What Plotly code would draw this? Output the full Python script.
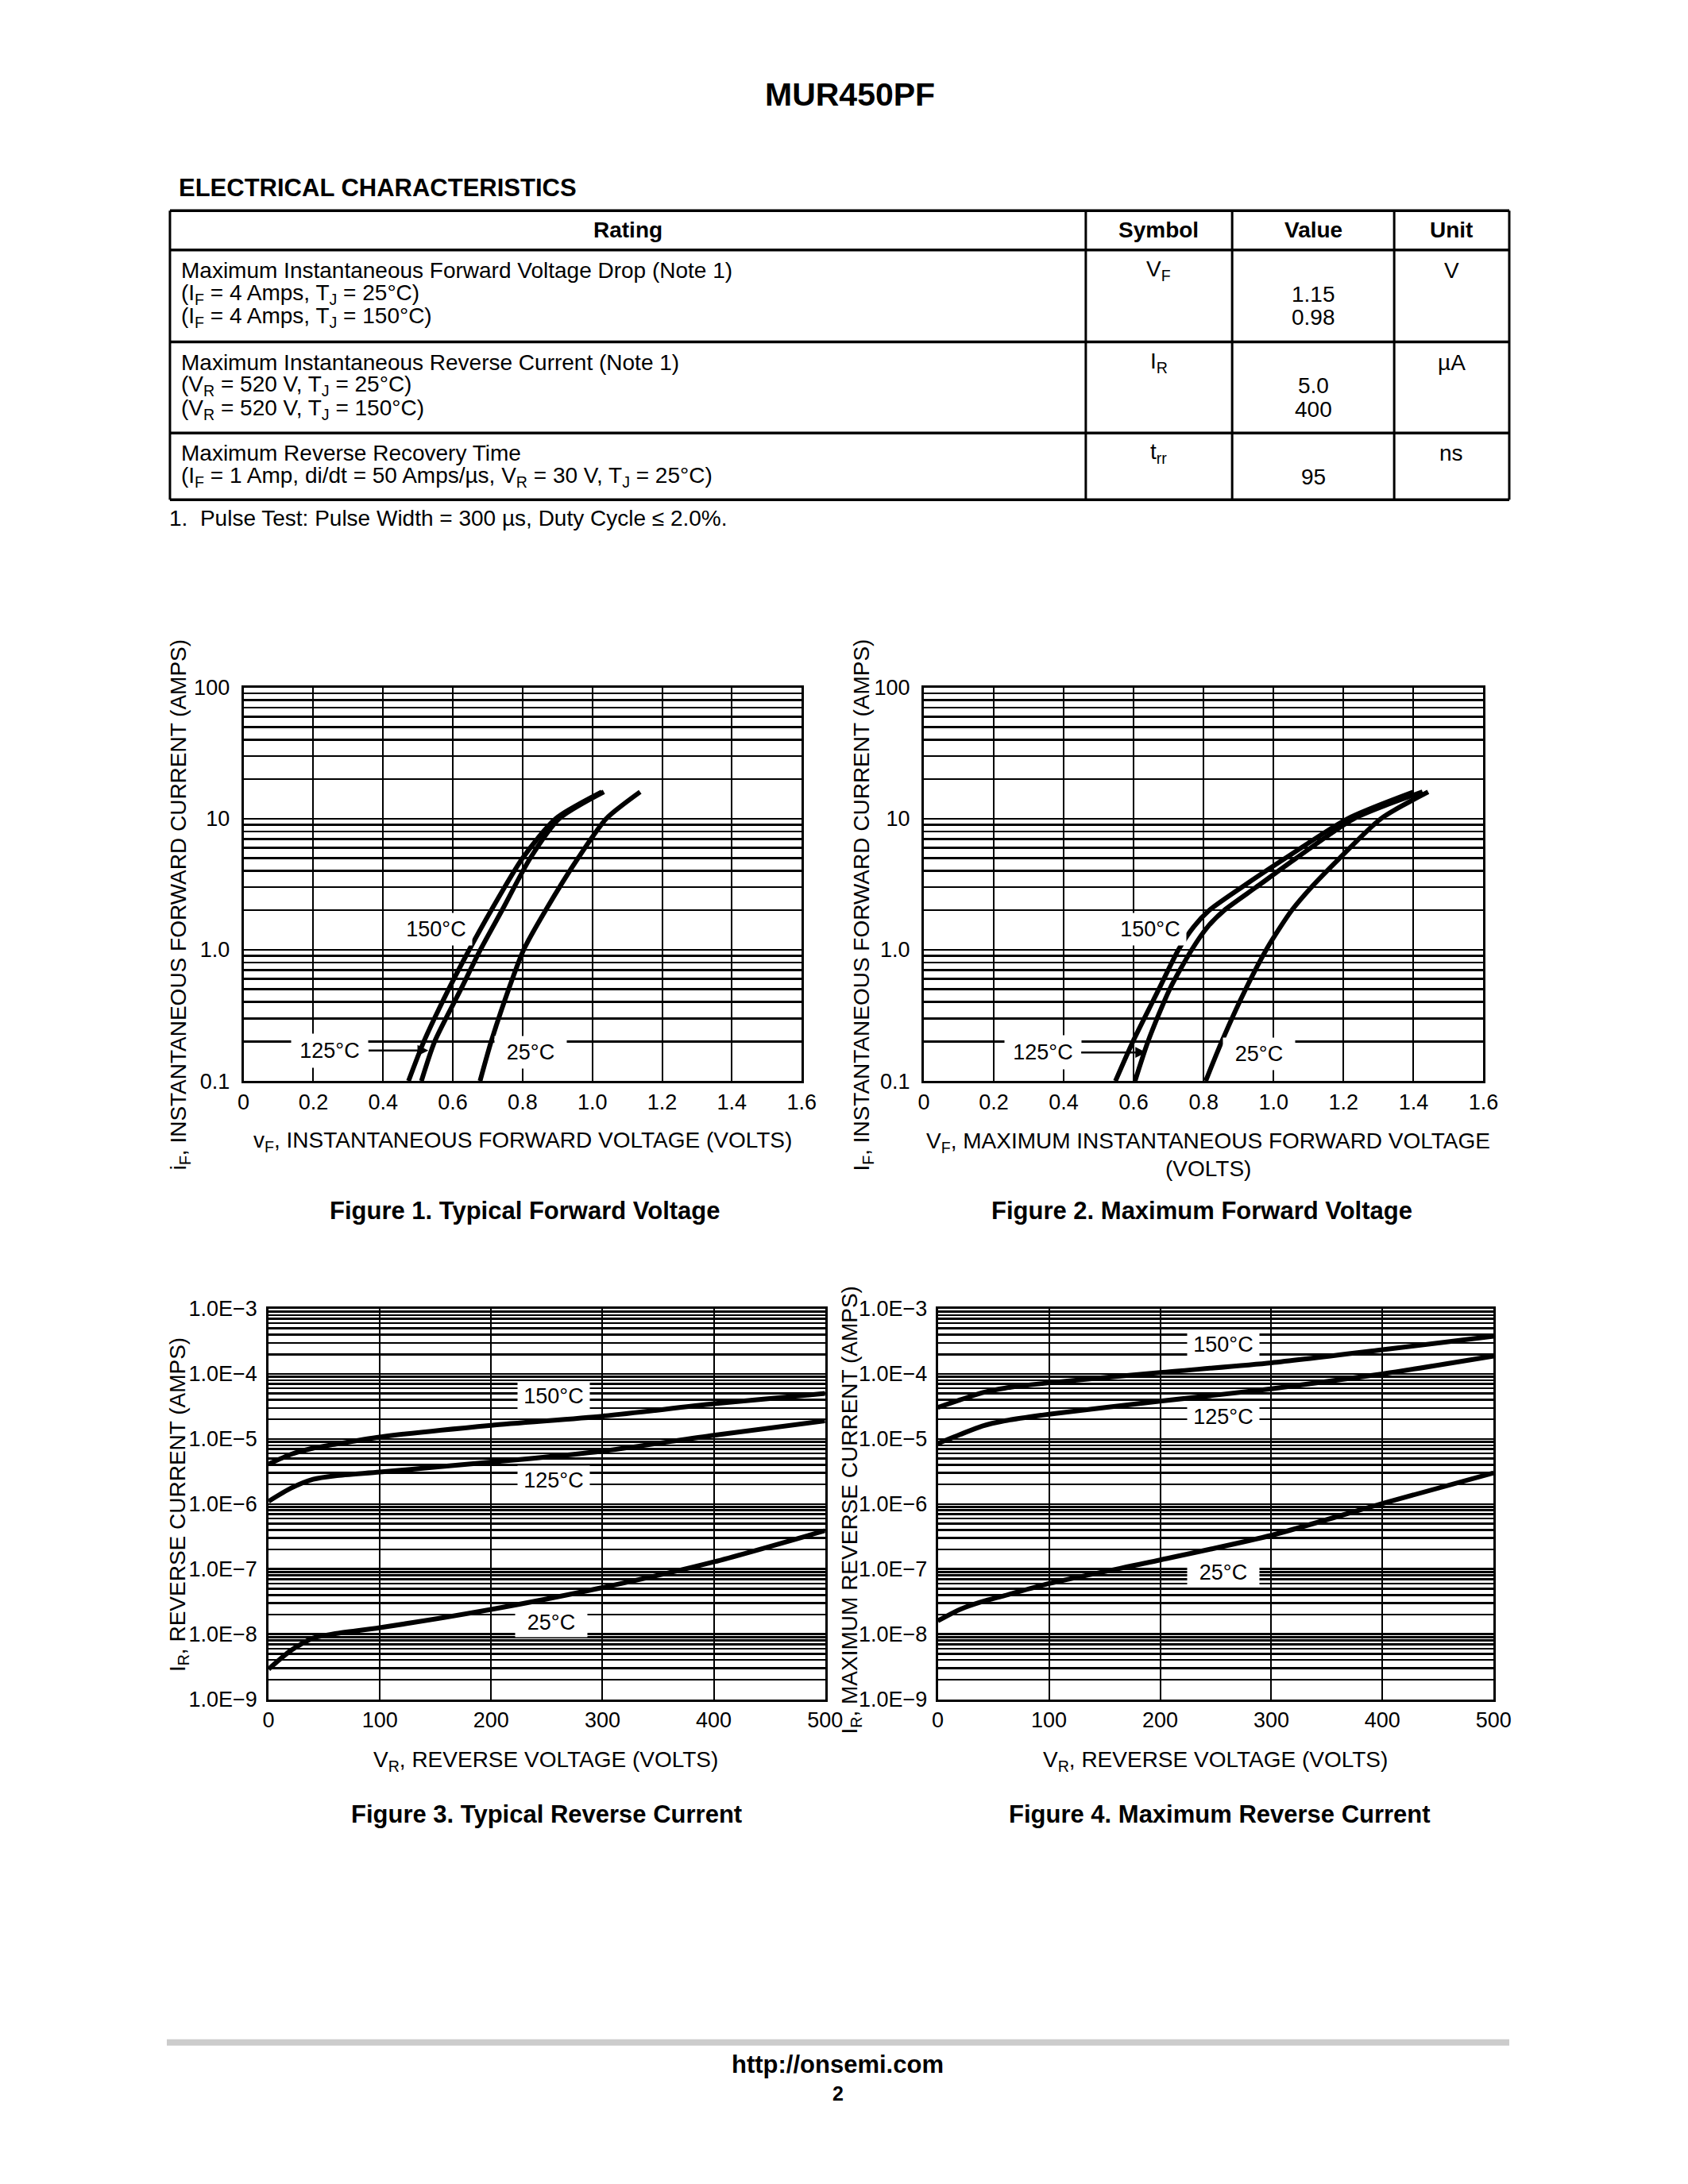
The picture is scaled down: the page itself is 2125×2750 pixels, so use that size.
import numpy as np
import plotly.graph_objects as go

W, H = 2125, 2750
FONT = "Liberation Sans, Arial, Helvetica, sans-serif"

# ---------------- data ----------------
# Figure 1: typical forward voltage (iF [A] vs vF [V])
fig1_current = [0.1, 0.2, 0.5, 1.0, 2.0, 5.0, 10.0, 16.0]
fig1_vf_150 = [0.473, 0.517, 0.588, 0.647, 0.710, 0.800, 0.895, 1.027]
fig1_vf_125 = [0.510, 0.548, 0.623, 0.679, 0.741, 0.822, 0.905, 1.033]
fig1_vf_25 = [0.678, 0.710, 0.760, 0.803, 0.866, 0.959, 1.040, 1.137]

# Figure 2: maximum forward voltage
fig2_current = [0.1, 0.2, 0.5, 1.0, 1.5, 2.0, 3.0, 5.0, 10.0, 16.0]
fig2_vf_150 = [0.548, 0.598, 0.672, 0.728, 0.772, 0.816, 0.909, 1.034, 1.212, 1.401]
fig2_vf_125 = [0.604, 0.641, 0.703, 0.766, 0.812, 0.859, 0.950, 1.065, 1.230, 1.426]
fig2_vf_25 = [0.806, 0.852, 0.920, 0.979, 1.020, 1.052, 1.108, 1.189, 1.307, 1.442]

# Figure 3: typical reverse current (IR [A] vs VR [V])
rev_voltage = [0, 20, 40, 60, 100, 200, 300, 400, 500]
fig3_ir_150 = [4.1e-6, 5.8e-6, 7.2e-6, 8.3e-6, 1.07e-5, 1.62e-5, 2.24e-5, 3.47e-5, 5.0e-5]
fig3_ir_125 = [1.1e-6, 1.75e-6, 2.4e-6, 2.72e-6, 3.1e-6, 4.4e-6, 6.5e-6, 1.14e-5, 1.9e-5]
fig3_ir_25 = [2.9e-9, 5.6e-9, 8.7e-9, 1.02e-8, 1.26e-8, 2.4e-8, 5.2e-8, 1.29e-7, 3.9e-7]

# Figure 4: maximum reverse current
fig4_ir_150 = [3.05e-5, 3.98e-5, 5.13e-5, 6.03e-5, 7.3e-5, 1.05e-4, 1.48e-4, 2.35e-4, 3.8e-4]
fig4_ir_125 = [8.5e-6, 1.17e-5, 1.58e-5, 1.9e-5, 2.4e-5, 3.8e-5, 5.9e-5, 1.0e-4, 1.88e-4]
fig4_ir_25 = [1.6e-8, 2.4e-8, 3.16e-8, 3.9e-8, 6.0e-8, 1.38e-7, 3.3e-7, 1.02e-6, 3.0e-6]

# tick labels
fwd_x_ticks = [0, 0.2, 0.4, 0.6, 0.8, 1.0, 1.2, 1.4, 1.6]
fwd_x_text = ["0", "0.2", "0.4", "0.6", "0.8", "1.0", "1.2", "1.4", "1.6"]
fwd_y_ticks = [0.1, 1, 10, 100]
fwd_y_text = ["0.1", "1.0", "10", "100"]
rev_x_ticks = [0, 100, 200, 300, 400, 500]
rev_x_text = ["0", "100", "200", "300", "400", "500"]
rev_y_ticks = [1e-9, 1e-8, 1e-7, 1e-6, 1e-5, 1e-4, 1e-3]
rev_y_text = ["1.0E\u22129", "1.0E\u22128", "1.0E\u22127", "1.0E\u22126",
              "1.0E\u22125", "1.0E\u22124", "1.0E\u22123"]

# curve labels: (text, x, y)
fig1_labels = [("150°C", 0.552, 1.43), ("25°C", 0.822, 0.166)]
fig1_arrow = ("125°C", 0.248, 0.171, 0.530)   # text, text x, y, arrow head x
fig2_labels = [("150°C", 0.648, 1.43), ("25°C", 0.958, 0.160)]
fig2_arrow = ("125°C", 0.340, 0.165, 0.636)
fig3_labels = [("150°C", 256, 4.6e-5), ("125°C", 256, 2.3e-6), ("25°C", 254, 1.5e-8)]
fig4_labels = [("150°C", 257, 2.8e-4), ("125°C", 257, 2.2e-5), ("25°C", 257, 8.9e-8)]


def px(x):
    return x / W


def py(y):
    return 1 - y / H


fig = go.Figure()

CURVE = dict(color="black", width=6, shape="spline", smoothing=0.7)


def add_curve(x, y, axis):
    fig.add_trace(go.Scatter(x=x, y=y, mode="lines", line=CURVE,
                             xaxis="x" + axis, yaxis="y" + axis,
                             showlegend=False, hoverinfo="skip"))


add_curve(fig1_vf_150, fig1_current, "")
add_curve(fig1_vf_125, fig1_current, "")
add_curve(fig1_vf_25, fig1_current, "")
add_curve(fig2_vf_150, fig2_current, "2")
add_curve(fig2_vf_125, fig2_current, "2")
add_curve(fig2_vf_25, fig2_current, "2")
add_curve(rev_voltage, fig3_ir_150, "3")
add_curve(rev_voltage, fig3_ir_125, "3")
add_curve(rev_voltage, fig3_ir_25, "3")
add_curve(rev_voltage, fig4_ir_150, "4")
add_curve(rev_voltage, fig4_ir_125, "4")
add_curve(rev_voltage, fig4_ir_25, "4")

TICKFONT = dict(family=FONT, size=27, color="black")


def xaxis(dom, rng, vals, text, anchor):
    return dict(domain=[px(dom[0]), px(dom[1])], range=rng, tickmode="array",
                tickvals=vals, ticktext=text, showgrid=True, gridcolor="black",
                gridwidth=2.0, showline=True, linecolor="black", linewidth=3,
                mirror=True, ticks="", zeroline=False, tickfont=TICKFONT,
                ticklabelstandoff=0, anchor=anchor, fixedrange=True)


def yaxis(dom, lo, hi, vals, text, anchor, standoff):
    minor_vals = [m * 10.0 ** e for e in range(lo, hi) for m in range(2, 10)]
    return dict(domain=[py(dom[1]), py(dom[0])], type="log", range=[lo, hi],
                tickmode="array", tickvals=vals, ticktext=text, showgrid=True,
                gridcolor="black", gridwidth=2.5,
                minor=dict(tickmode="array", tickvals=minor_vals, showgrid=True,
                           gridcolor="black", gridwidth=2.5, ticks=""),
                showline=True, linecolor="black", linewidth=3, mirror=True,
                ticks="", zeroline=False, tickfont=TICKFONT,
                ticklabelstandoff=standoff, anchor=anchor, fixedrange=True)


F1X, F1Y = (303, 1016), (860, 1361)
F2X, F2Y = (1172, 1887), (860, 1361)
F3X, F3Y = (335, 1046), (1651, 2148)
F4X, F4Y = (1190, 1900), (1651, 2148)

fig.update_layout(
    xaxis=xaxis(F1X, [0, 1.6], fwd_x_ticks, fwd_x_text, "y"),
    yaxis=yaxis(F1Y, -1, 2, fwd_y_ticks, fwd_y_text, "x", 9),
    xaxis2=xaxis(F2X, [0, 1.6], fwd_x_ticks, fwd_x_text, "y2"),
    yaxis2=yaxis(F2Y, -1, 2, fwd_y_ticks, fwd_y_text, "x2", 9),
    xaxis3=xaxis(F3X, [0, 500], rev_x_ticks, rev_x_text, "y3"),
    yaxis3=yaxis(F3Y, -9, -3, rev_y_ticks, rev_y_text, "x3", 6),
    xaxis4=xaxis(F4X, [0, 500], rev_x_ticks, rev_x_text, "y4"),
    yaxis4=yaxis(F4Y, -9, -3, rev_y_ticks, rev_y_text, "x4", 5),
)

ann = []
shapes = []


def text(x, y, s, size=28, bold=False, xanchor="center", angle=0):
    if bold:
        s = "<b>" + s + "</b>"
    ann.append(dict(x=px(x), y=py(y), xref="paper", yref="paper", text=s,
                    showarrow=False, xanchor=xanchor, yanchor="middle",
                    textangle=angle, font=dict(family=FONT, size=size, color="black")))


def hline(x0, x1, y, w=3, color="black"):
    shapes.append(dict(type="line", xref="paper", yref="paper", x0=px(x0), x1=px(x1),
                       y0=py(y), y1=py(y), line=dict(color=color, width=w)))


def vline(x, y0, y1, w=3):
    shapes.append(dict(type="line", xref="paper", yref="paper", x0=px(x), x1=px(x),
                       y0=py(y0), y1=py(y1), line=dict(color="black", width=w)))


# ---------------- header & table ----------------
text(1078, 105, "MUR450PF", size=41, bold=True)
text(218, 224, "ELECTRICAL CHARACTERISTICS", size=31, bold=True, xanchor="left")

TL, TR = 209, 1920
rows_y = [253, 303, 420, 536, 621]
cols_x = [1379, 1566, 1773]
for yy in rows_y:
    hline(TL, TR, yy, w=3.5)
for xx in [TL, TR] + cols_x:
    vline(xx, rows_y[0], rows_y[-1], w=3)

text(794, 278, "Rating", bold=True)
text(1472, 278, "Symbol", bold=True)
text(1670, 278, "Value", bold=True)
text(1846, 278, "Unit", bold=True)

LX = 221
text(LX, 329, "Maximum Instantaneous Forward Voltage Drop (Note 1)", xanchor="left")
text(LX, 359, "(I<sub>F</sub> = 4 Amps, T<sub>J</sub> = 25°C)", xanchor="left")
text(LX, 389, "(I<sub>F</sub> = 4 Amps, T<sub>J</sub> = 150°C)", xanchor="left")
text(1472, 329, "V<sub>F</sub>")
text(1670, 359, "1.15")
text(1670, 389, "0.98")
text(1846, 329, "V")

text(LX, 446, "Maximum Instantaneous Reverse Current (Note 1)", xanchor="left")
text(LX, 476, "(V<sub>R</sub> = 520 V, T<sub>J</sub> = 25°C)", xanchor="left")
text(LX, 506, "(V<sub>R</sub> = 520 V, T<sub>J</sub> = 150°C)", xanchor="left")
text(1472, 446, "I<sub>R</sub>")
text(1670, 476, "5.0")
text(1670, 506, "400")
text(1846, 446, "µA")

text(LX, 562, "Maximum Reverse Recovery Time", xanchor="left")
text(LX, 592, "(I<sub>F</sub> = 1 Amp, di/dt = 50 Amps/µs, V<sub>R</sub> = 30 V, T<sub>J</sub> = 25°C)",
     xanchor="left")
text(1472, 562, "t<sub>rr</sub>")
text(1670, 592, "95")
text(1846, 562, "ns")

text(206, 645, "1.  Pulse Test: Pulse Width = 300 µs, Duty Cycle ≤ 2.0%.", xanchor="left")

# ---------------- axis titles & captions ----------------
text(222, 1137, "i<sub>F</sub>, INSTANTANEOUS FORWARD CURRENT (AMPS)", angle=-90)
text(660, 1438, "v<sub>F</sub>, INSTANTANEOUS FORWARD VOLTAGE (VOLTS)")
text(663, 1526, "Figure 1. Typical Forward Voltage", size=31, bold=True)

text(1095, 1137, "I<sub>F</sub>, INSTANTANEOUS FORWARD CURRENT (AMPS)", angle=-90)
text(1535, 1439, "V<sub>F</sub>, MAXIMUM INSTANTANEOUS FORWARD VOLTAGE")
text(1535, 1473, "(VOLTS)")
text(1527, 1526, "Figure 2. Maximum Forward Voltage", size=31, bold=True)

text(220, 1900, "I<sub>R</sub>, REVERSE CURRENT (AMPS)", angle=-90)
text(689, 2227, "V<sub>R</sub>, REVERSE VOLTAGE (VOLTS)")
text(690, 2295, "Figure 3. Typical Reverse Current", size=31, bold=True)

text(1079, 1907, "I<sub>R</sub>, MAXIMUM REVERSE CURRENT (AMPS)", angle=-90)
text(1545, 2227, "V<sub>R</sub>, REVERSE VOLTAGE (VOLTS)")
text(1550, 2295, "Figure 4. Maximum Reverse Current", size=31, bold=True)

# ---------------- curve labels ----------------
LBLFONT = dict(family=FONT, size=27, color="black")


def curve_label(s, x, y, axis, width=84, pad=4):
    ann.append(dict(x=x, y=np.log10(y), xref="x" + axis, yref="y" + axis, text=s,
                    showarrow=False, font=LBLFONT, xanchor="center", yanchor="middle",
                    bgcolor="white", borderpad=pad, width=width))


def arrow_label(lbl, axis):
    s, tx, ty, hx = lbl
    ann.append(dict(x=hx, y=np.log10(ty), xref="x" + axis, yref="y" + axis,
                    ax=tx, ay=np.log10(ty), axref="x" + axis, ayref="y" + axis,
                    text=s, showarrow=True, arrowhead=2, arrowsize=1.1,
                    arrowwidth=2.5, arrowcolor="black", font=LBLFONT,
                    bgcolor="white", borderpad=6, width=84))


for s, x, y in fig1_labels:
    curve_label(s, x, y, "", width=80, pad=5)
arrow_label(fig1_arrow, "")
for s, x, y in fig2_labels:
    curve_label(s, x, y, "2", width=80, pad=5)
arrow_label(fig2_arrow, "2")
for s, x, y in fig3_labels:
    curve_label(s, x, y, "3", width=84, pad=3)
for s, x, y in fig4_labels:
    curve_label(s, x, y, "4", width=84, pad=3)

# ---------------- footer ----------------
hline(205, 1920, 2585, w=8, color="#cccccc")
text(1062, 2613, "http://onsemi.com", size=31, bold=True)
text(1062, 2650, "2", size=25, bold=True)

fig.update_layout(
    width=W, height=H, margin=dict(l=0, r=0, t=0, b=0),
    paper_bgcolor="white", plot_bgcolor="white",
    annotations=ann, shapes=shapes, showlegend=False,
    font=dict(family=FONT, size=27, color="black"),
)

fig.write_html("out.html", config={"displayModeBar": False, "staticPlot": True},
               post_script="document.body.style.margin='0px';"
                           "document.body.style.overflow='hidden';")
